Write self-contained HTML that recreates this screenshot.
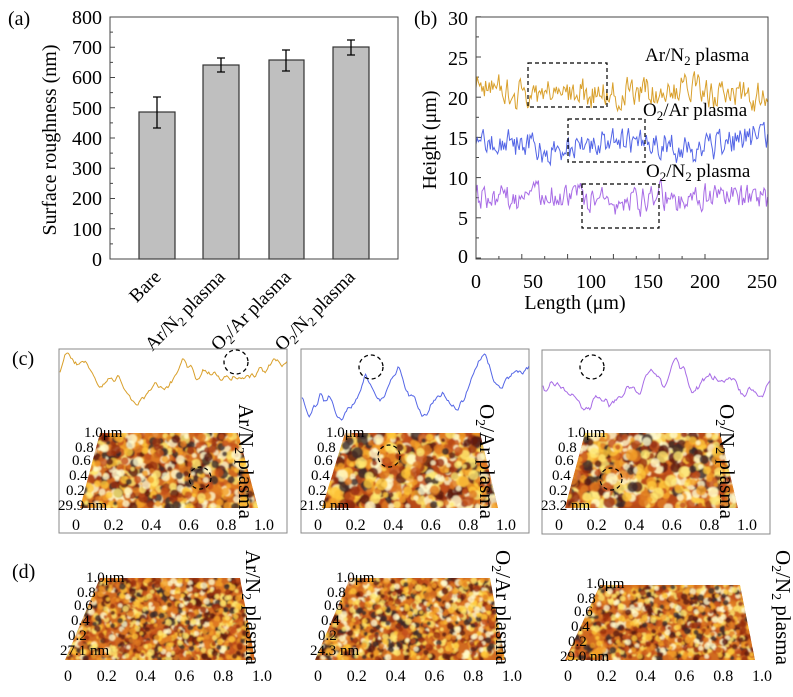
<!DOCTYPE html>
<html><head><meta charset="utf-8"><style>
html,body{margin:0;padding:0;background:#fff;}
svg{display:block;}
svg, svg text, svg tspan{font-family:"Liberation Serif","Times New Roman",Times,"DejaVu Serif",serif !important;}
</style></head><body>
<svg id="s" width="793" height="697" viewBox="0 0 793 697" xmlns="http://www.w3.org/2000/svg" style="font-family:'Liberation Serif','Times New Roman',Times,serif">
<defs><filter id="bl"><feGaussianBlur stdDeviation="0.8"/></filter></defs>
<!-- (a) -->
<text x="8" y="25" font-size="20">(a)</text>
<g font-size="20" text-anchor="end">
<text x="102" y="24">800</text><text x="102" y="54">700</text><text x="102" y="84">600</text>
<text x="102" y="115">500</text><text x="102" y="145">400</text><text x="102" y="175">300</text>
<text x="102" y="205">200</text><text x="102" y="236">100</text><text x="102" y="266">0</text>
</g>
<text transform="translate(56,140) rotate(-90)" font-size="20" text-anchor="middle">Surface roughness (nm)</text>
<g fill="#bfbfbf" stroke="#333" stroke-width="1.2">
<rect x="139" y="112" width="36" height="147"/>
<rect x="203" y="65" width="36" height="194"/>
<rect x="269" y="60" width="35" height="199"/>
<rect x="333" y="47" width="36" height="212"/>
</g>
<g stroke="#000" stroke-width="1.3" fill="none">
<path d="M157 97V128M153 97h8M153 128h8"/>
<path d="M221 58V72M217 58h8M217 72h8"/>
<path d="M286 50V71M282 50h8M282 71h8"/>
<path d="M351 40V55M347 40h8M347 55h8"/>
</g>
<rect x="110" y="17" width="288" height="242" fill="none" stroke="#444" stroke-width="1"/>
<g id="ticksA" stroke="#444"></g>
<g font-size="19">
<text transform="translate(162,278) rotate(-45)" text-anchor="end">Bare</text>
<text transform="translate(226,278) rotate(-45)" text-anchor="end">Ar/N<tspan font-size="13" dy="4">2</tspan><tspan dy="-4"> plasma</tspan></text>
<text transform="translate(292,278) rotate(-45)" text-anchor="end">O<tspan font-size="13" dy="4">2</tspan><tspan dy="-4">/Ar plasma</tspan></text>
<text transform="translate(356,278) rotate(-45)" text-anchor="end">O<tspan font-size="13" dy="4">2</tspan><tspan dy="-4">/N</tspan><tspan font-size="13" dy="4">2</tspan><tspan dy="-4"> plasma</tspan></text>
</g>
<!-- (b) -->
<text x="414" y="25" font-size="20">(b)</text>
<g font-size="20" text-anchor="end">
<text x="468" y="25">30</text><text x="468" y="65">25</text><text x="468" y="105">20</text>
<text x="468" y="145">15</text><text x="468" y="185">10</text><text x="468" y="225">5</text><text x="468" y="263">0</text>
</g>
<g font-size="20" text-anchor="middle">
<text x="476" y="288">0</text><text x="533" y="288">50</text><text x="591" y="288">100</text>
<text x="648" y="288">150</text><text x="705" y="288">200</text><text x="762" y="288">250</text>
</g>
<text x="575" y="309" font-size="20" text-anchor="middle">Length (μm)</text>
<text transform="translate(436,140) rotate(-90)" font-size="20" text-anchor="middle">Height (μm)</text>
<g id="linesB" fill="none" stroke-width="1"></g>
<rect x="476" y="17" width="292" height="242" fill="none" stroke="#444" stroke-width="1"/>
<g fill="none" stroke="#000" stroke-dasharray="4,3" stroke-width="1.2">
<rect x="528" y="63" width="79" height="44"/>
<rect x="568" y="119" width="77" height="43"/>
<rect x="582" y="184" width="77" height="44"/>
</g>
<g font-size="19">
<text x="645" y="61">Ar/N<tspan font-size="13" dy="4">2</tspan><tspan dy="-4"> plasma</tspan></text>
<text x="643" y="116">O<tspan font-size="13" dy="4">2</tspan><tspan dy="-4">/Ar plasma</tspan></text>
<text x="646" y="177">O<tspan font-size="13" dy="4">2</tspan><tspan dy="-4">/N</tspan><tspan font-size="13" dy="4">2</tspan><tspan dy="-4"> plasma</tspan></text>
</g>
<!-- (c) -->
<text x="12" y="365" font-size="20">(c)</text>
<rect x="59" y="349" width="228" height="184" fill="none" stroke="#888"/>
<rect x="301" y="349" width="228" height="184" fill="none" stroke="#888"/>
<rect x="542" y="350" width="228" height="184" fill="none" stroke="#888"/>
<g id="linesC" fill="none" stroke-width="1"></g>
<g id="surf"></g>
<g id="labels" font-size="15"></g>
<text x="12" y="578" font-size="20">(d)</text>
</svg>
<script>
var NS="http://www.w3.org/2000/svg";
var seed=11;function rnd(){seed=(seed*16807)%2147483647;return (seed-1)/2147483646;}
function el(t,a,p){var e=document.createElementNS(NS,t);for(var k in a)e.setAttribute(k,a[k]);if(p)p.appendChild(e);return e;}
var ta=document.getElementById('ticksA');
for(var i=0;i<=16;i++){var y=259-i*15.125;el('line',{x1:110,x2:i%2?113:115,y1:y,y2:y},ta);}
for(var i=0;i<=12;i++){var y=258-i*20.1;el('line',{x1:476,x2:i%2?479:481,y1:y,y2:y},ta);}
for(var i=0;i<=10;i++){var x=476+i*22.9;el('line',{x1:x,x2:x,y1:259,y2:i%2?256:254},ta);}
function noisy(x0,x1,step,base,amp,drift){var d='',v=0,s=0;for(var x=x0;x<=x1;x+=step){s+=(rnd()-0.5)*drift;s*=0.97;v=0.45*v+(rnd()-0.5)*amp;var y=base+v+s;d+=(d?'L':'M')+x.toFixed(1)+' '+y.toFixed(1);}return d;}
var lb=document.getElementById('linesB');
el('path',{d:noisy(476,768,1.2,91,26,3),stroke:'#d9a02c'},lb);
el('path',{d:noisy(476,768,1.2,144,26,3),stroke:'#5466e6'},lb);
el('path',{d:noisy(476,768,1.2,200,24,3),stroke:'#a86ce6'},lb);
function smooth(x0,x1,ytop,ybot){var ys=[],v=0,t=0;for(var x=x0;x<=x1;x+=1.2){t=t*0.75+(rnd()-0.5)*3;v=v*0.9+t;ys.push(v+(rnd()-0.5)*0.8);}
var mn=Math.min.apply(0,ys),mx=Math.max.apply(0,ys);var d='';ys.forEach(function(v,i){var y=ytop+(v-mn)/(mx-mn)*(ybot-ytop);d+=(d?'L':'M')+(x0+i*1.2).toFixed(1)+' '+y.toFixed(1);});return d;}
var lc=document.getElementById('linesC');
el('path',{d:smooth(60,287,353,405),stroke:'#d9a02c'},lc);
el('path',{d:smooth(302,529,354,420),stroke:'#5466e6'},lc);
el('path',{d:smooth(543,770,358,410),stroke:'#a86ce6'},lc);
[[236,362],[371,367],[592,367]].forEach(function(c){el('circle',{cx:c[0],cy:c[1],r:12,fill:'none',stroke:'#000','stroke-dasharray':'4,3','stroke-width':1.3},lc);});
var pal=['#fffbd0','#ffe870','#ffc83a','#f4a028','#e07a20','#c4501a','#962e10','#5a1a12','#3a2a2a'];
var sg=document.getElementById('surf'),defs=document.querySelector('defs'),cid=0;
function surf(pts,n,rmin,rmax,bias,base){var id='c'+(cid++);var cp=el('clipPath',{id:id},defs);var poly=pts.map(function(p){return p.join(',')}).join(' ');el('polygon',{points:poly},cp);
var g=el('g',{'clip-path':'url(#'+id+')'},sg);el('polygon',{points:poly,fill:base||'#d06a20'},g);
var g2=el('g',{filter:'url(#bl)'},g);
var xs=pts.map(function(p){return p[0]}),ys=pts.map(function(p){return p[1]});var xa=Math.min.apply(0,xs),xb=Math.max.apply(0,xs),ya=Math.min.apply(0,ys),yb=Math.max.apply(0,ys);
for(var i=0;i<n;i++){var c=pal[Math.min(8,Math.floor(Math.pow(rnd(),bias)*9))];el('circle',{cx:xa+rnd()*(xb-xa),cy:ya+rnd()*(yb-ya),r:rmin+rnd()*(rmax-rmin),fill:c,opacity:0.8},g2);}
}
var L=document.getElementById('labels');
function txt(x,y,s,p,o){var t=el('text',Object.assign({x:x,y:y},o||{}),p);t.innerHTML=s;return t;}
function axes(ox,top,nm,lab,xt,rot){
var ys=[0,15,28,43,58,73];var ls=['1.0μm','0.8','0.6','0.4','0.2',nm];
for(var i=0;i<6;i++)txt(ox+(i==0?24:(i==5?-2:18-i*3)),top+ys[i]+5,ls[i],L,{});
var xl=['0','0.2','0.4','0.6','0.8','1.0'];for(var i=0;i<6;i++)txt(xt[0]+i*(xt[1]-xt[0])/5,xt[2],xl[i],L,{'text-anchor':'middle','font-size':16});
txt(rot[0],rot[1],lab,L,{'font-size':21,transform:'rotate(90 '+rot[0]+' '+rot[1]+')'});}
var AR='Ar/N<tspan font-size="14" dy="4">2</tspan><tspan dy="-4"> plasma</tspan>';
var OA='O<tspan font-size="14" dy="4">2</tspan><tspan dy="-4">/Ar plasma</tspan>';
var ON='O<tspan font-size="14" dy="4">2</tspan><tspan dy="-4">/N</tspan><tspan font-size="14" dy="4">2</tspan><tspan dy="-4"> plasma</tspan>';
surf([[100,433],[238,433],[258,508],[80,508]],900,2,5,1.2);
surf([[345,433],[480,433],[498,508],[322,508]],800,2,6,1.3,'#b84a18');
surf([[585,433],[720,433],[738,508],[565,508]],800,2,6,1.4,'#b84a18');
[[200,478],[389,456],[611,479]].forEach(function(c){el('circle',{cx:c[0],cy:c[1],r:11,fill:'none',stroke:'#000','stroke-dasharray':'4,3','stroke-width':1.2},sg);});
axes(60,432,'29.9 nm',AR,[76,264,530],[239,404]);
axes(302,432,'21.9 nm',OA,[318,506,530],[480,404]);
axes(543,432,'23.2 nm',ON,[559,747,530],[720,404]);
surf([[100,578],[240,578],[255,660],[65,660]],1400,1.8,3.5,1.0);
surf([[350,578],[490,578],[505,660],[315,660]],1400,1.8,3.5,1.1);
surf([[600,585],[740,585],[755,660],[565,660]],1300,1.8,3.5,1.0);
axes(62,577,'27.1 nm',AR,[68,262,681],[246,550]);
axes(312,577,'24.3 nm',OA,[318,512,681],[496,550]);
axes(562,583,'29.0 nm',ON,[568,762,681],[776,550]);
</script>
</body></html>
